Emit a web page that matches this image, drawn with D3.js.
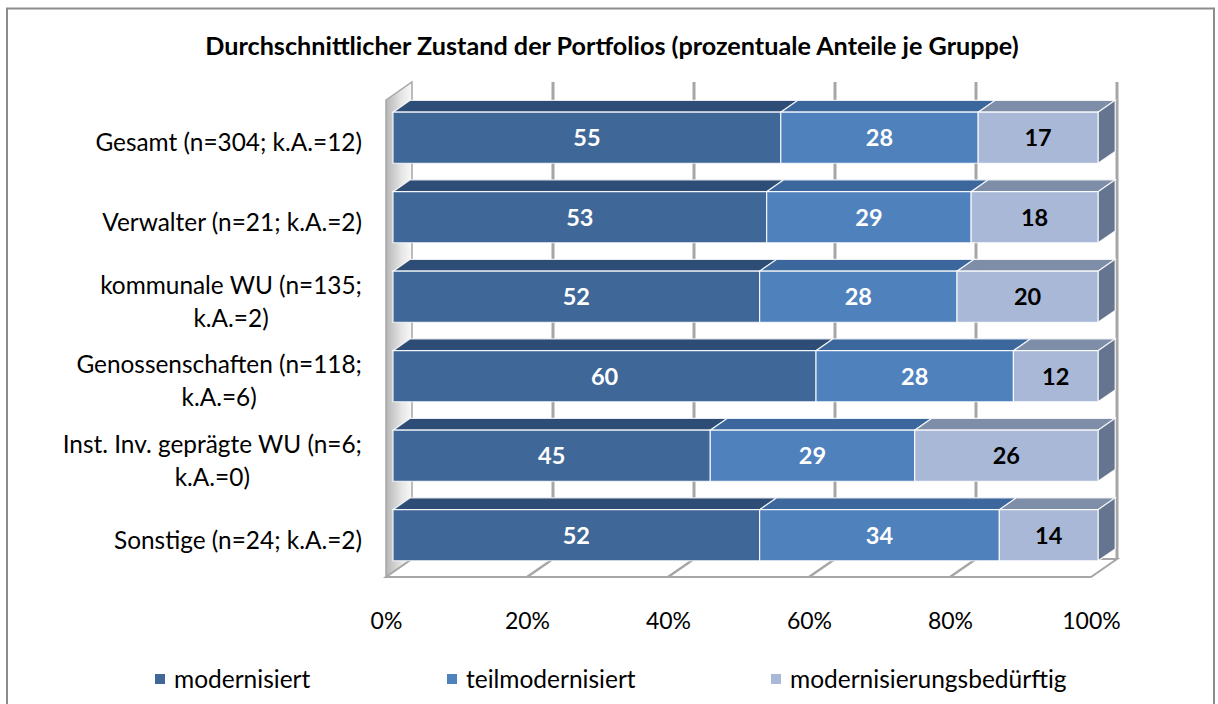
<!DOCTYPE html>
<html>
<head>
<meta charset="utf-8">
<script src="https://cdn.jsdelivr.net/npm/d3@7"></script>
<style>
  body { margin: 0; background: #fff; }
  svg { display: block; font-family: Lato, "Open Sans", sans-serif; }
</style>
</head>
<body>
<svg id="chart"></svg>
<script>
// data
const categories = [
  "Gesamt (n=304; k.A.=12)",
  "Verwalter (n=21; k.A.=2)",
  "kommunale WU (n=135;\nk.A.=2)",
  "Genossenschaften (n=118;\nk.A.=6)",
  "Inst. Inv. geprägte WU (n=6;\nk.A.=0)",
  "Sonstige (n=24; k.A.=2)"
];
const seriesNames = ["modernisiert", "teilmodernisiert", "modernisierungsbedürftig"];
const modernisiert = [55, 53, 52, 60, 45, 52];
const teilmodernisiert = [28, 29, 28, 28, 29, 34];
const bedurftig = [17, 18, 20, 12, 26, 14];
const tickValues = [0, 20, 40, 60, 80, 100];

const width = 1218, height = 704;
const svg = d3.select("#chart").attr("width", width).attr("height", height);

// colours: front, top, side per series
const frontCol = ["#3f6797", "#4f81bd", "#a9b8d7"];
const topCol = ["#2e4d76", "#3b679c", "#7e8da8"];
const sideCol = ["#2a4468", "#365d8c", "#66758f"];
const labelColor = ["#fff", "#fff", "#000"];

// 3d oblique depth offset
const DX = 26, DY = 18;
const f0 = 0.27, f1 = 0.93;

const x = d3.scaleLinear().domain([0, 100]).range([386, 1091]);
const y = d3.scaleBand().domain(categories).range([100, 577])
  .paddingInner(0.358).paddingOuter(0.179).align(0.6);

const P = (px, py, f) => [px + f * DX, py - f * DY];
const poly = pts => "M" + pts.map(p => p.join(",")).join("L") + "Z";

// frame
svg.append("rect")
  .attr("x", 7).attr("y", 8.5).attr("width", 1207).attr("height", 720)
  .attr("fill", "none").attr("stroke", "#8c8c8c").attr("stroke-width", 2);

// title
svg.append("text")
  .attr("x", 612).attr("y", 55)
  .attr("text-anchor", "middle")
  .style("font-weight", "bold").style("font-size", "25.2px")
  .text("Durchschnittlicher Zustand der Portfolios (prozentuale Anteile je Gruppe)");

const y0 = 100, yF = 577;

// left wall
const defs = svg.append("defs");
const grad = defs.append("linearGradient").attr("id", "wallGrad")
  .attr("x1", "0%").attr("x2", "100%").attr("y1", "0%").attr("y2", "0%");
grad.append("stop").attr("offset", "0%").attr("stop-color", "#b5b5b5");
grad.append("stop").attr("offset", "60%").attr("stop-color", "#e6e6e6");
grad.append("stop").attr("offset", "100%").attr("stop-color", "#fafafa");

svg.append("path")
  .attr("d", poly([P(x(0), y0, 0), P(x(0), y0, 1), P(x(0), yF, 1), P(x(0), yF, 0)]))
  .attr("fill", "url(#wallGrad)").attr("stroke", "#a6a6a6").attr("stroke-width", 1.5);

// floor
svg.append("path")
  .attr("d", poly([P(x(0), yF, 0), P(x(100), yF, 0), P(x(100), yF, 1), P(x(0), yF, 1)]))
  .attr("fill", "#fff").attr("stroke", "#a6a6a6").attr("stroke-width", 2);

// back gridlines
svg.append("g").selectAll("line")
  .data(tickValues.slice(1))
  .join("line")
  .attr("x1", d => P(x(d), y0, 1)[0]).attr("x2", d => P(x(d), y0, 1)[0])
  .attr("y1", P(0, y0, 1)[1]).attr("y2", P(0, yF, 1)[1])
  .attr("stroke", "#a6a6a6").attr("stroke-width", 3);

// floor gridlines
svg.append("g").selectAll("line")
  .data(tickValues.slice(1, -1))
  .join("line")
  .attr("x1", d => P(x(d), yF, 0)[0]).attr("y1", P(0, yF, 0)[1])
  .attr("x2", d => P(x(d), yF, 1)[0]).attr("y2", P(0, yF, 1)[1])
  .attr("stroke", "#a6a6a6").attr("stroke-width", 2.5);

// stacked series
const rows = categories.map((c, i) => ({cat: c, vals: [modernisiert[i], teilmodernisiert[i], bedurftig[i]]}));
const bars = svg.append("g");

rows.forEach(r => {
  const yt = y(r.cat), yb = y(r.cat) + y.bandwidth();
  let acc = 0;
  const segs = r.vals.map((v, k) => { const s = {k, v, a: acc, b: acc + v}; acc += v; return s; });
  const g = bars.append("g");
  // top faces
  g.selectAll(".top").data(segs).join("path")
    .attr("d", s => poly([P(x(s.a), yt, f0), P(x(s.b), yt, f0), P(x(s.b), yt, f1), P(x(s.a), yt, f1)]))
    .attr("fill", s => topCol[s.k]).attr("stroke", "#fff").attr("stroke-width", 1.2).attr("stroke-opacity", 0.85);
  // right side of last segment
  const last = segs[segs.length - 1];
  g.append("path")
    .attr("d", poly([P(x(last.b), yt, f0), P(x(last.b), yt, f1), P(x(last.b), yb, f1), P(x(last.b), yb, f0)]))
    .attr("fill", sideCol[last.k]).attr("stroke", "#fff").attr("stroke-width", 1.2).attr("stroke-opacity", 0.85);
  // front faces
  g.selectAll(".front").data(segs).join("path")
    .attr("d", s => poly([P(x(s.a), yt, f0), P(x(s.b), yt, f0), P(x(s.b), yb, f0), P(x(s.a), yb, f0)]))
    .attr("fill", s => frontCol[s.k]).attr("stroke", "#fff").attr("stroke-width", 1.2).attr("stroke-opacity", 0.85);
  // value labels
  g.selectAll("text").data(segs).join("text")
    .attr("x", s => P(x((s.a + s.b) / 2), 0, f0)[0])
    .attr("y", (yt + yb) / 2 - f0 * DY)
    .attr("dy", "0.36em")
    .attr("text-anchor", "middle")
    .attr("fill", s => labelColor[s.k])
    .style("font-weight", "bold").style("font-size", "23.5px")
    .text(s => s.v);
});

// category labels
const lineH = 33;
const catFont = "24.4px";
svg.append("g").selectAll("text")
  .data(categories)
  .join("text")
  .attr("text-anchor", "end")
  .style("font-size", catFont)
  .each(function(c) {
    const lines = c.split("\n");
    const cy = y(c) + y.bandwidth() / 2;
    const t = d3.select(this);
    if (lines.length === 1) {
      t.attr("x", 362).attr("y", cy).attr("dy", "0.35em").text(c);
    } else {
      t.attr("x", 362).attr("y", cy - lineH / 2).attr("dy", "0.35em").text(lines[0]);
      const w = this.getComputedTextLength();
      svg.append("text")
        .attr("x", 362 - w / 2).attr("y", cy + lineH / 2).attr("dy", "0.35em")
        .attr("text-anchor", "middle").style("font-size", catFont)
        .text(lines[1]);
    }
  });

// x axis
const axis = svg.append("g")
  .attr("transform", `translate(0, ${yF})`)
  .call(d3.axisBottom(x).tickValues(tickValues).tickSize(0).tickFormat(d => d + "%"));
axis.select(".domain").remove();
axis.selectAll("text")
  .attr("y", 52).attr("dy", 0)
  .attr("fill", "#000")
  .style("font-family", "Lato, sans-serif").style("font-size", "23px");

// legend
const legendX = [155, 447, 771];
const legend = svg.append("g").selectAll("g")
  .data(seriesNames)
  .join("g")
  .attr("transform", (d, i) => `translate(${legendX[i]}, 679)`);
legend.append("rect")
  .attr("x", 0).attr("y", -5).attr("width", 10).attr("height", 10)
  .attr("fill", (d, i) => frontCol[i]);
legend.append("text")
  .attr("x", 19).attr("y", 0).attr("dy", "0.35em")
  .style("font-size", "24.5px")
  .text(d => d);
</script>
</body>
</html>
